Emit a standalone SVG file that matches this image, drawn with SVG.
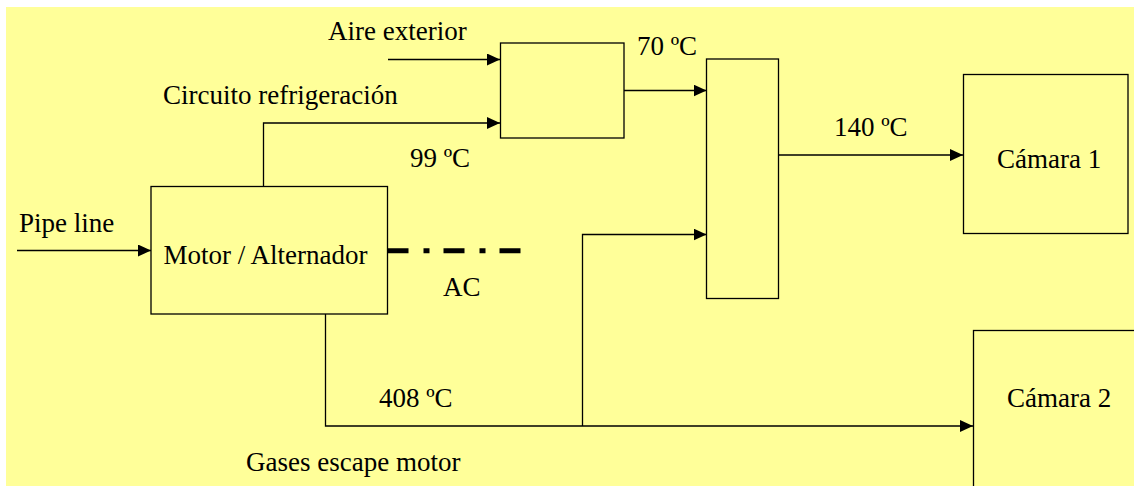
<svg xmlns="http://www.w3.org/2000/svg" width="1134" height="486" viewBox="0 0 1134 486">
<style>
.box{fill:#FFFF99;stroke:#000;stroke-width:1.3}
.ln{fill:none;stroke:#000;stroke-width:1.3}
text{font-family:"Liberation Serif","Times New Roman",serif;font-size:27px;fill:#000}
</style>
<defs>
<marker id="ah" markerWidth="13" markerHeight="12" refX="13" refY="6" orient="auto" markerUnits="userSpaceOnUse">
<path d="M0,0 L13,6 L0,12 Z" fill="#000"/>
</marker>
</defs>
<rect x="0" y="0" width="1134" height="486" fill="#fff"/>
<rect x="6" y="7" width="1128" height="479" fill="#FFFF99"/>
<g id="connectors">
<path class="ln" d="M388,59.5 H500" marker-end="url(#ah)"/>
<path class="ln" d="M263.5,187 V123 H500" marker-end="url(#ah)"/>
<path class="ln" d="M624,90.5 H706.5" marker-end="url(#ah)"/>
<path class="ln" d="M778.5,155 H963" marker-end="url(#ah)"/>
<path class="ln" d="M17,250.5 H151" marker-end="url(#ah)"/>
<path class="ln" d="M325.5,314 V426 H973" marker-end="url(#ah)"/>
<path class="ln" d="M582.5,426 V234.5 H706.5" marker-end="url(#ah)"/>
<path d="M387.5,250.7 H520.5" fill="none" stroke="#000" stroke-width="5" stroke-dasharray="21 15 6 14"/>
</g>
<g id="mixer1"><rect class="box" x="500.5" y="43" width="123.5" height="95"/></g>
<g id="mixer2"><rect class="box" x="706.5" y="59" width="72" height="239.5"/></g>
<g id="motor"><rect class="box" x="151" y="186.5" width="236.5" height="127.5"/>
<text x="163.5" y="263.5">Motor / Alternador</text></g>
<g id="camara1"><rect class="box" x="963.5" y="74.5" width="164.5" height="159"/>
<text x="997" y="168">Cámara 1</text></g>
<g id="camara2"><rect class="box" x="973.5" y="330.5" width="200" height="200"/>
<text x="1007" y="407">Cámara 2</text></g>
<g id="labels">
<text x="328" y="40">Aire exterior</text>
<text x="163" y="104">Circuito refrigeración</text>
<text x="637" y="55">70 ºC</text>
<text x="410" y="167">99 ºC</text>
<text x="834" y="136">140 ºC</text>
<text x="19" y="232">Pipe line</text>
<text x="443" y="296">AC</text>
<text x="379" y="407">408 ºC</text>
<text x="246" y="471">Gases escape motor</text>
</g>
</svg>
